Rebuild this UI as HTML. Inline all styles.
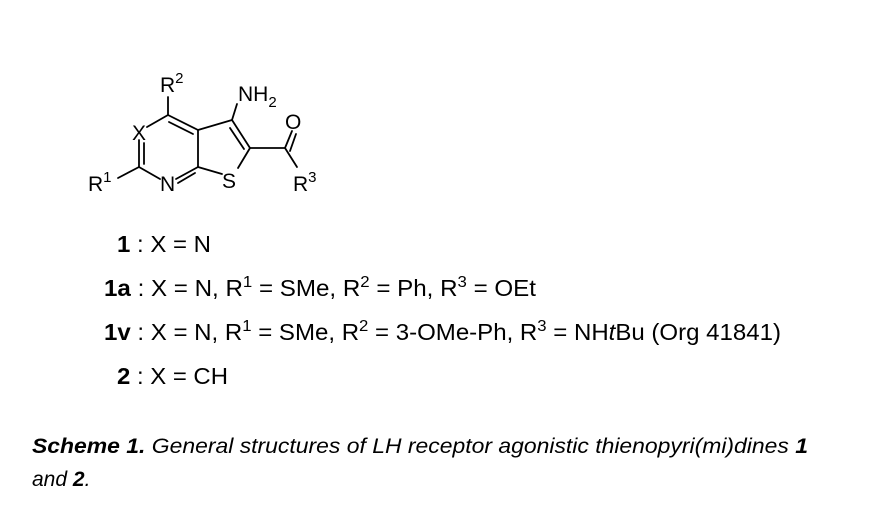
<!DOCTYPE html>
<html><head><meta charset="utf-8"><style>
html,body{margin:0;padding:0;background:#fff;}
svg{display:block}
text{font-family:"Liberation Sans",sans-serif;fill:#000}
</style></head><body>
<svg width="869" height="519" viewBox="0 0 869 519" xmlns="http://www.w3.org/2000/svg">
<g stroke="#000" stroke-width="1.8" fill="none" stroke-linecap="round">
<line x1="168" y1="115" x2="168" y2="97"/>
<line x1="168" y1="115" x2="147" y2="127"/>
<line x1="139" y1="140" x2="139" y2="167"/>
<line x1="144" y1="143" x2="144" y2="164"/>
<line x1="139" y1="167" x2="118" y2="178"/>
<line x1="139" y1="167" x2="160" y2="179"/>
<line x1="176" y1="179" x2="198" y2="167"/>
<line x1="178" y1="183" x2="195" y2="173"/>
<line x1="198" y1="167" x2="198" y2="130"/>
<line x1="198" y1="130" x2="168" y2="115"/>
<line x1="193" y1="134" x2="169" y2="122"/>
<line x1="198" y1="130" x2="232" y2="120"/>
<line x1="232" y1="120" x2="237" y2="104"/>
<line x1="232" y1="120" x2="250" y2="148"/>
<line x1="230" y1="128" x2="244" y2="149"/>
<line x1="250" y1="148" x2="238" y2="168"/>
<line x1="222" y1="174" x2="198" y2="167"/>
<line x1="250" y1="148" x2="285" y2="148"/>
<line x1="285" y1="148" x2="292" y2="131"/>
<line x1="290" y1="151" x2="296" y2="134"/>
<line x1="285" y1="148" x2="297" y2="167"/>
</g>
<g font-size="21">
<text x="160" y="92">R<tspan font-size="15" dy="-9">2</tspan></text>
<text x="238" y="101">NH<tspan font-size="15" dy="6">2</tspan></text>
<text x="132" y="140">X</text>
<text x="285" y="129">O</text>
<text x="88" y="191">R<tspan font-size="15" dy="-9">1</tspan></text>
<text x="160" y="191">N</text>
<text x="222" y="188">S</text>
<text x="293" y="191">R<tspan font-size="15" dy="-9">3</tspan></text>
</g>
<g font-size="23">
<text x="117" y="252" textLength="94" lengthAdjust="spacingAndGlyphs"><tspan font-weight="bold">1</tspan> : X = N</text>
<text x="104" y="296" textLength="432" lengthAdjust="spacingAndGlyphs"><tspan font-weight="bold">1a</tspan> : X = N, R<tspan font-size="16" dy="-9">1</tspan><tspan dy="9"> = SMe, R</tspan><tspan font-size="16" dy="-9">2</tspan><tspan dy="9"> = Ph, R</tspan><tspan font-size="16" dy="-9">3</tspan><tspan dy="9"> = OEt</tspan></text>
<text x="104" y="340" textLength="677" lengthAdjust="spacingAndGlyphs"><tspan font-weight="bold">1v</tspan> : X = N, R<tspan font-size="16" dy="-9">1</tspan><tspan dy="9"> = SMe, R</tspan><tspan font-size="16" dy="-9">2</tspan><tspan dy="9"> = 3-OMe-Ph, R</tspan><tspan font-size="16" dy="-9">3</tspan><tspan dy="9"> = NH</tspan><tspan font-style="italic">t</tspan>Bu (Org 41841)</text>
<text x="117" y="384" textLength="111" lengthAdjust="spacingAndGlyphs"><tspan font-weight="bold">2</tspan> : X = CH</text>
</g>
<g font-size="21" font-style="italic">
<text x="32" y="453" textLength="776" lengthAdjust="spacingAndGlyphs"><tspan font-weight="bold">Scheme 1.</tspan> General structures of LH receptor agonistic thienopyri(mi)dines <tspan font-weight="bold">1</tspan></text>
<text x="32" y="486">and <tspan font-weight="bold">2</tspan>.</text>
</g>
</svg>
</body></html>
